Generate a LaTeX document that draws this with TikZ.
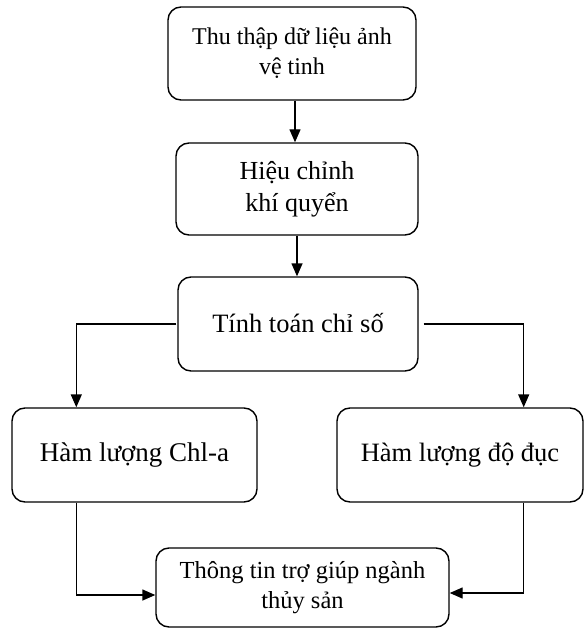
\documentclass[tikz,border=0pt]{standalone}
\usepackage{fontspec}
\setmainfont{Liberation Serif}
\usetikzlibrary{arrows.meta,calc}
\tikzset{
  box/.style={draw, line width=1.4pt, rounded corners=13pt, inner sep=0pt,
    align=center},
  arr/.style={line width=1.4pt, -{Triangle[length=13pt,width=11pt]}},
}
\begin{document}
\begin{tikzpicture}[x=1pt,y=-1pt]
\useasboundingbox (0,0) rectangle (585,628);
\node[box, font=\fontsize{24}{30}\selectfont, minimum width=248pt, minimum height=93pt] (b1) at (292,53.5) {Thu thập dữ liệu ảnh\\vệ tinh};
\node[box, font=\fontsize{26}{32}\selectfont, minimum width=242pt, minimum height=92pt] (b2) at (297,189) {Hiệu chỉnh\\khí quyển};
\node[box, font=\fontsize{26.5}{32}\selectfont, minimum width=240pt, minimum height=94pt] (b3) at (298,324) {\raisebox{2pt}{Tính toán chỉ số}};
\node[box, font=\fontsize{27}{32}\selectfont, minimum width=245pt, minimum height=94pt] (b4) at (134.5,455) {\raisebox{3pt}{Hàm lượng Chl-a}};
\node[box, font=\fontsize{26.5}{32}\selectfont, minimum width=246pt, minimum height=94pt] (b5) at (460,455) {\raisebox{3pt}{Hàm lượng độ đục}};
\node[box, font=\fontsize{24.5}{30}\selectfont, minimum width=293pt, minimum height=79pt] (b6) at (302.5,587.5) {\raisebox{-4pt}{\begin{tabular}{@{}c@{}}Thông tin trợ giúp ngành\\thủy sản\end{tabular}}};
\coordinate (a1s) at ($(b1.south)+(3,0)$);
\coordinate (a1e) at ($(b2.north)+(-2,0)$);
\coordinate (l4) at ($(b4.north west)+(65,0)$);
\coordinate (l4b) at ($(b4.south west)+(65,0)$);
\coordinate (r5) at ($(b5.north east)+(-60,0)$);
\coordinate (r5b) at ($(b5.south east)+(-60,0)$);
\coordinate (b6l) at ($(b6.west)+(0,7.5)$);
\coordinate (b6r) at ($(b6.east)+(0,5.5)$);
\coordinate (b3l) at ($(b3.west)+(-1,0)$);
\coordinate (b3r) at ($(b3.east)+(5,0)$);
\draw[arr] (a1s) -- (a1e);
\draw[arr] (b2.south) -- (b2.south |- b3.north);
\draw[arr] (b3l) -| (l4);
\draw[arr] (b3r) -| (r5);
\draw[arr] (l4b) |- (b6l);
\draw[arr] (r5b) |- (b6r);
\end{tikzpicture}
\end{document}
